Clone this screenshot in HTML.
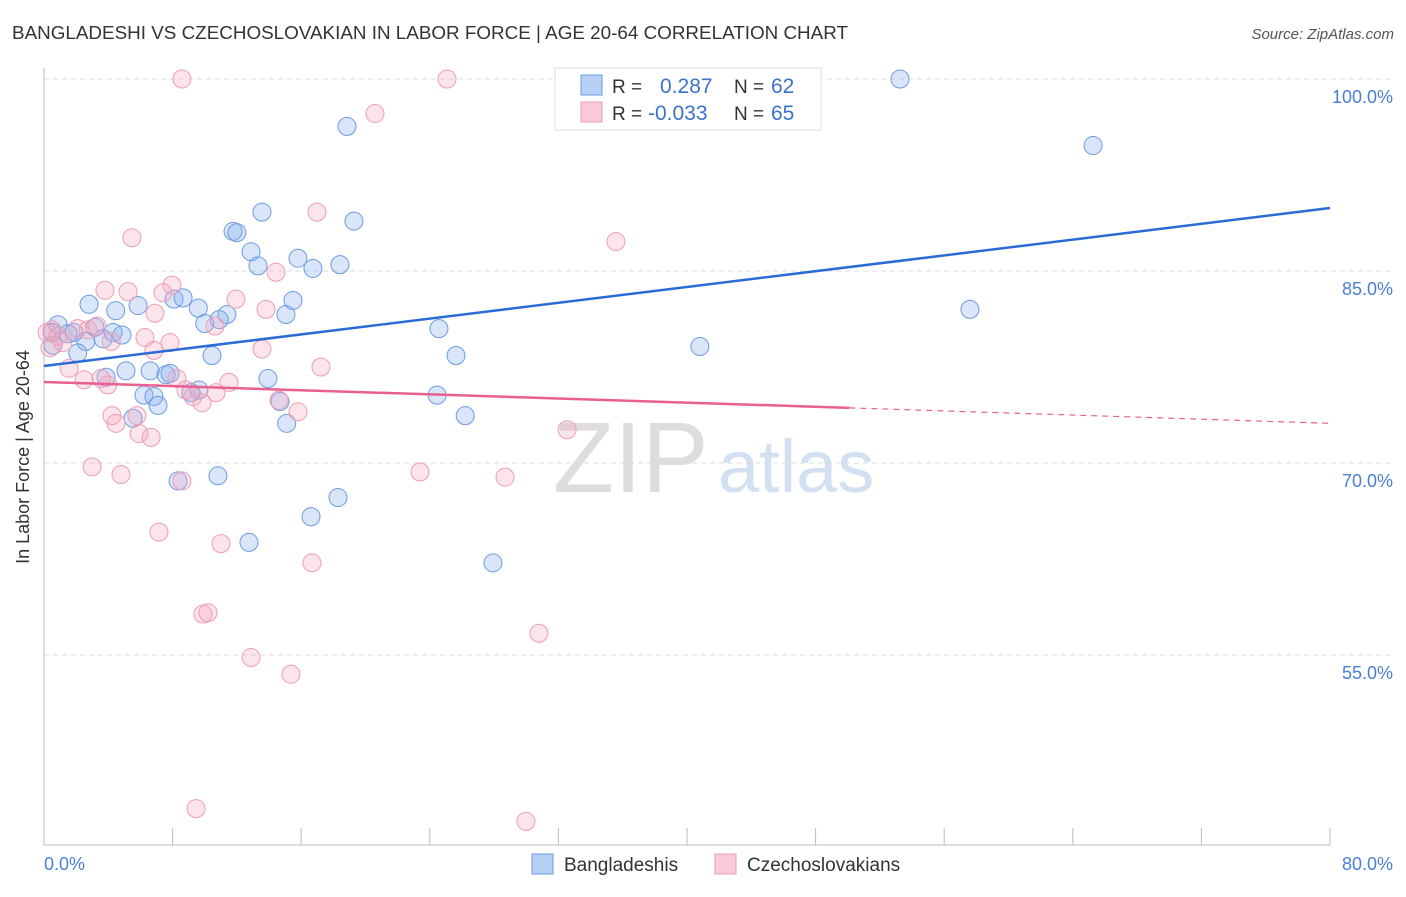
<!DOCTYPE html>
<html><head><meta charset="utf-8"><style>
body{margin:0;background:#fff;font-family:"Liberation Sans",sans-serif;}
svg text{font-family:"Liberation Sans",sans-serif;}
</style></head><body>
<svg width="1406" height="892" xmlns="http://www.w3.org/2000/svg">
<text x="12" y="39" font-size="18" fill="#333" textLength="836" lengthAdjust="spacingAndGlyphs">BANGLADESHI VS CZECHOSLOVAKIAN IN LABOR FORCE | AGE 20-64 CORRELATION CHART</text>
<text x="1394" y="39" font-size="15" fill="#555" text-anchor="end" font-style="italic">Source: ZipAtlas.com</text>
<text x="553" y="492" font-size="100" fill="#ddd" font-family="Liberation Serif">ZIP</text>
<text x="718" y="492" font-size="74" fill="#d3e0f2">atlas</text>
<g id="grid"></g>
<g id="axes"></g>
<g id="pts"></g>
<g id="trend"></g>
<text x="29" y="457" font-size="18" fill="#333" text-anchor="middle" transform="rotate(-90 29 457)">In Labor Force | Age 20-64</text>
<text x="44" y="870" font-size="18" fill="#4a7fd6">0.0%</text>
<text x="1393" y="870" font-size="18" fill="#4a7fd6" text-anchor="end">80.0%</text>
<g>
<rect x="555" y="68" width="266" height="62" fill="#fff" stroke="#ddd"/>
<rect x="581" y="75" width="21" height="20" fill="#b7d0f5" stroke="#6b9be0"/>
<rect x="581" y="102" width="21" height="20" fill="#fbcad8" stroke="#ee9ab4"/>
<text x="612" y="93" font-size="19" fill="#333">R =</text>
<text x="660" y="93" font-size="21" fill="#3b72d0">0.287</text>
<text x="734" y="93" font-size="19" fill="#333">N =</text>
<text x="771" y="93" font-size="21" fill="#3b72d0">62</text>
<text x="612" y="120" font-size="19" fill="#333">R =</text>
<text x="648" y="120" font-size="21" fill="#3b72d0">-0.033</text>
<text x="734" y="120" font-size="19" fill="#333">N =</text>
<text x="771" y="120" font-size="21" fill="#3b72d0">65</text>
</g>
<g>
<rect x="532" y="854" width="21" height="20" fill="#b7d0f5" stroke="#6b9be0"/>
<text x="564" y="871" font-size="19" fill="#333">Bangladeshis</text>
<rect x="715" y="854" width="21" height="20" fill="#fbcad8" stroke="#ee9ab4"/>
<text x="747" y="871" font-size="19" fill="#333">Czechoslovakians</text>
</g>
</svg>
<script>
const yTicks=[100,85,70,55];
const yTickLabels=["100.0%","85.0%","70.0%","55.0%"];
const xTicks=[8,16,24,32,40,48,56,64,72,80];
const blueX=[53.25,65.26,18.85,13.56,19.28,11.76,12.0,12.88,13.31,15.8,16.73,18.41,57.6,8.09,8.65,9.6,11.38,15.05,15.49,2.8,4.46,5.85,10.0,10.9,0.87,0.5,1.5,1.87,3.17,2.6,3.67,4.3,4.85,2.1,0.56,24.57,25.63,10.45,40.8,5.1,6.6,3.86,7.59,7.84,13.93,6.22,6.84,7.09,9.64,9.14,14.68,24.45,26.2,15.1,5.54,10.82,8.34,18.29,16.61,12.75,27.93];
const blueY=[100.0,94.8,96.3,89.6,88.9,88.1,88.0,86.5,85.4,86.0,85.2,85.5,82.0,82.8,82.9,82.1,81.6,81.6,82.7,82.4,81.9,82.3,80.9,81.2,80.8,80.2,80.1,80.2,80.6,79.5,79.7,80.2,80.0,78.6,79.2,80.5,78.4,78.4,79.1,77.2,77.2,76.7,76.9,77.0,76.6,75.3,75.2,74.5,75.7,75.5,74.8,75.3,73.7,73.1,73.5,69.0,68.6,67.3,65.8,63.8,62.2];
const pinkX=[8.58,25.07,20.59,16.98,5.47,35.58,14.43,3.79,5.23,7.96,7.4,11.94,13.81,6.9,10.64,0.5,0.19,0.87,1.18,0.37,2.1,2.74,3.3,4.18,6.28,6.84,7.84,13.56,17.23,1.56,2.49,3.55,3.97,8.27,11.51,8.83,9.27,10.7,9.83,14.62,15.8,4.23,4.48,5.78,5.91,6.66,32.54,2.99,4.79,8.58,23.39,28.68,7.15,11.01,16.67,9.89,10.2,30.79,12.88,15.36,9.46,29.98,45.16];
const pinkY=[100,100,97.3,89.6,87.6,87.3,84.9,83.5,83.4,83.9,83.3,82.8,82.0,81.7,80.7,80.4,80.2,79.9,79.4,79.0,80.5,80.4,80.7,79.5,79.8,78.8,79.4,78.9,77.5,77.4,76.5,76.6,76.1,76.6,76.3,75.7,75.2,75.5,74.7,74.9,74.0,73.7,73.1,73.7,72.3,72.0,72.6,69.7,69.1,68.6,69.3,68.9,64.6,63.7,62.2,58.2,58.3,56.7,54.8,53.5,43.0,42.0,100];
const blueTrend=[77.58,89.92];
const pinkTrend=[76.33,73.1];
const pinkSolidEnd=50.1;
const X=v=>44+v*16.075, Y=v=>79+(100-v)*12.8;
const NS="http://www.w3.org/2000/svg";
function mk(tag,attrs,parent){const e=document.createElementNS(NS,tag);for(const k in attrs)e.setAttribute(k,attrs[k]);document.getElementById(parent).appendChild(e);return e;}
yTicks.forEach((t,i)=>{
 const l=mk('line',{x1:44,x2:1393,y1:Y(t),y2:Y(t),stroke:'#ddd','stroke-dasharray':'5,4'},'grid');
 
 
 const tx=mk('text',{x:1393,y:Y(t)+24,'font-size':18,fill:'#4a7fd6','text-anchor':'end'},'grid');
 tx.textContent=yTickLabels[i];
 
 
});
const ya=mk('line',{x1:44,x2:44,y1:68,y2:845,stroke:'#bbb'},'axes');


const xa=mk('line',{x1:44,x2:1330,y1:845,y2:845,stroke:'#bbb'},'axes');


xTicks.forEach(t=>{
 const l=mk('line',{x1:X(t),x2:X(t),y1:828,y2:845,stroke:'#bbb'},'axes');
 
 
});
blueX.forEach((v,i)=>{
 const c=mk('circle',{cx:X(v),cy:Y(blueY[i]),r:9,fill:'rgba(130,172,238,0.3)',stroke:'#6b9be2','stroke-width':1},'pts');
 
 
});
pinkX.forEach((v,i)=>{
 const c=mk('circle',{cx:X(v),cy:Y(pinkY[i]),r:9,fill:'rgba(245,165,190,0.3)',stroke:'#ee9db6','stroke-width':1},'pts');
 
 
});
const bt=mk('line',{x1:X(0),y1:Y(blueTrend[0]),x2:X(80),y2:Y(blueTrend[1]),stroke:'#2a6cd6','stroke-width':2.5},'trend');


const pm=pinkTrend[0]+(pinkTrend[1]-pinkTrend[0])*pinkSolidEnd/80;
const pt=mk('line',{x1:X(0),y1:Y(pinkTrend[0]),x2:X(pinkSolidEnd),y2:Y(pm),stroke:'#e8608f','stroke-width':2.5},'trend');


const pd=mk('line',{x1:X(pinkSolidEnd),y1:Y(pm),x2:X(80),y2:Y(pinkTrend[1]),stroke:'#e8608f','stroke-width':1.2,'stroke-dasharray':'6,5'},'trend');


</script>
</body></html>
